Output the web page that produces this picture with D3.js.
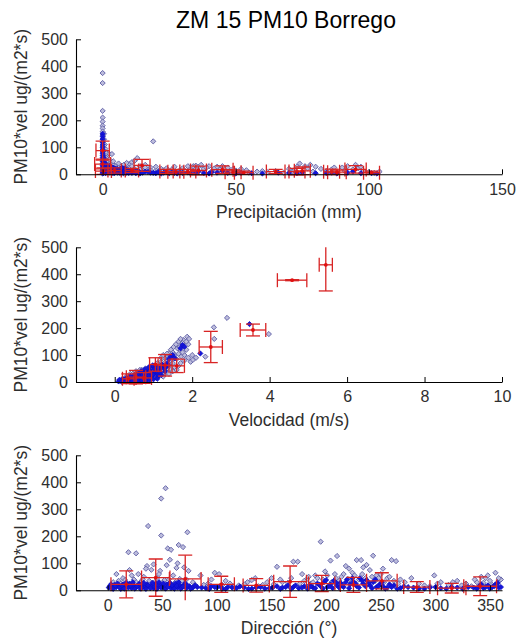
<!DOCTYPE html>
<html>
<head>
<meta charset="utf-8">
<script src="https://cdn.jsdelivr.net/npm/d3@7"></script>
<style>
  html, body { margin: 0; padding: 0; background: #fff; }
  svg { display: block; font-family: "Liberation Sans", Arial, sans-serif; }
</style>
</head>
<body>
<svg id="chart" width="516" height="642"></svg>
<script>
// ---- data -----------------------------------------------------------------
const titleText = "ZM 15 PM10 Borrego";
const yLabelText = "PM10*vel ug/(m2*s)";
const yTicks = [0, 100, 200, 300, 400, 500];

// Panel 1: precipitation (mm) vs PM10*vel
const precipTicks = [0, 50, 100, 150];
const precipLight = [
  [0,375],[0,338],[0,235],[0,210],[0,195],[0,180],[0,170],[0,158],[0,145],[0,130],[0,118],[0,105],
  [0.3,95],[0.5,80],[1.5,78],[2.5,76],[3.5,75],[1,62],[1.2,55],[2,45],[3,40],[4,35],[5,30],[6,28],
  [7,32],[8,25],[9,20],[10,38],[11,45],[12,50],[13,60],[14,30],[15,22],[16,35],[17,18],[18,25],
  [19,122],[20,15],[21,12],[22,20],[23,15],[25,10],[26,18],[28,8],[30,22],[31,12],[33,25],[34,30],
  [35,32],[36,28],[37,35],[38,20],[40,30],[41,12],[42,22],[44,18],[46,10],[47,25],[48,8],[50,14],
  [52,20],[55,6],[58,10],[62,8],[65,12],[68,6],[71,8],[72,15],[74,40],[76,30],[77,22],[79,10],
  [80,28],[84,12],[86,18],[88,8],[90,25],[92,30],[94,18],[95,35],[96,22],[98,12],[100,8],[102,5],[104,10],
  [0.5,150],[0.5,130],[0.8,110],[1,95],[1.5,60],[2,35],[2.5,55],[3,28],[4,48],[5,22],[6,40],[7,20],
  [8,35],[9,42],[10,25],[11,30],[12,20],[14,18],[16,25],[18,14],[20,28],[24,22],[27,28],[29,15],
  [32,30],[35,20],[39,25],[43,28],[45,30],[49,20],[54,15],[60,12],[70,20],[73,28],[78,35],[82,20],
  [87,25],[91,12],[97,28]
];
const precipDark = [
  [0,150],[0,140],[0,130],[0,120],[0,110],[0,100],[0,92],[0,85],[0,78],[0,70],[0,62],[0,55],[0,48],
  [0,40],[0,33],[0,26],[0,20],[0,14],[0,8],[0,3],[0.5,60],[0.6,45],[0.8,30],[1,20],[1.2,12],[1.5,35],
  [1.8,25],[2,15],[2.3,8],[2.6,30],[3,20],[3.3,10],[3.6,5],[4,25],[4.5,15],[5,8],[5.5,20],[6,12],
  [6.5,5],[7,18],[7.5,10],[8,22],[8.5,14],[9,6],[9.5,16],[10,10],[11,5],[12,14],[13,8],[14,3],
  [16,10],[18,6],[20,4],[23,6],[27,5],[32,7],[36,10],[41,8],[45,12],[52,5],[66,6],[73,4],[86,6],[94,10],[101,4],
  [0.3,5],[0.7,10],[1.1,4],[1.4,18],[1.7,8],[2.1,22],[2.4,14],[2.8,6],[3.2,16],[3.5,26],[3.9,10],
  [4.3,4],[4.7,20],[5.2,12],[5.7,6],[6.2,16],[6.8,9],[7.2,24],[7.8,4],[8.2,12],[8.8,18],[9.3,10],
  [9.8,5],[10.5,14],[11.5,9],[12.5,4],[13.5,12],[15,6],[17,9],[19,5],[21,8],[22,3],[24,9],[25,4],
  [26,7],[28,3],[29,8],[30,5],[33,4],[35,8],[38,5],[40,3],[43,6],[47,5],[50,3],[56,4],[60,3],[70,5],
  [75,7],[80,4],[84,5],[88,3],[92,6],[97,4],[103,3]
];
// bin means: [x, y, x spread, y spread]
const precipBins = [
  [0,88,2.5,35],[0,38,3,18],[0.3,12,3,12],[4.5,14,2.5,10],[14.8,33,3,22],[11,14,2.5,8],
  [24,10,2.5,8],[27.5,9,3,9],[32,10,3,8],[36,14,3,16],[45,17,4,14],[49,8,3,8],[53,6,3.5,6],
  [65,10,3.5,8],[73,10,3,12],[75,13,3,14],[86,9,3,10],[88,8,3.5,8],[95,18,4,14],[101,6,3,6]
];

// Panel 2: wind speed (m/s) vs PM10*vel
const velTicks = [0, 2, 4, 6, 8, 10];
const velLight = [
  [2.9,238],[2.56,203],[2.57,160],[2.34,94],[3.98,178],[1.87,168],[1.77,156],[1.96,75],[2.02,82],
  [2.1,90],[1.4,107],[1.33,95],[1.29,88],[1.5,110],[1.55,100],[1.62,125],[1.68,130],[1.7,115],
  [1.45,80],[1.5,70],[1.6,85],[1.65,60],[1.72,95],[1.8,100],[1.85,120],[1.4,60],[1.35,50],[1.2,75],
  [1.15,60],[1.1,50],[1.25,40],[1.05,45],[1.0,30],[0.95,40],[0.9,25],[0.85,35],[0.8,20],[0.7,30],
  [0.6,25],[0.5,35],[0.45,20],[0.4,30],[0.35,15],[0.3,20],[0.25,10],[1.3,30],[1.45,45],[1.55,55],
  [1.9,140],[1.75,145],
  [1.0,50],[1.1,70],[1.2,90],[1.25,100],[1.35,105],[1.45,120],[1.52,130],[1.58,140],[1.65,150],
  [1.7,160],[1.4,30],[1.5,40],[1.6,45],[1.7,70],[1.8,80],[1.9,90],[2.0,100],[0.9,55],[0.8,50],
  [0.7,45],[1.85,150],[1.92,160],[1.15,25],[1.25,20],[0.55,40],[0.65,45],[1.65,105],[1.75,110]
];
const velDark = [
  [0.1,2],[0.15,5],[0.2,3],[0.25,8],[0.3,6],[0.35,10],[0.4,4],[0.45,12],[0.5,8],[0.55,15],[0.6,10],
  [0.65,18],[0.7,12],[0.75,22],[0.8,15],[0.85,28],[0.9,20],[0.95,32],[1.0,25],[1.05,38],[1.1,30],
  [1.15,45],[1.2,55],[1.25,60],[0.5,25],[0.6,30],[0.7,35],[0.8,40],[0.9,45],[1.0,55],[1.05,62],
  [0.3,15],[0.4,18],[0.2,12],[0.65,5],[0.75,8],[0.85,10],[0.95,12],[1.1,18],[1.2,25],[1.3,40],
  [1.35,70],[1.4,85],[1.75,137],[1.8,131],[1.7,125],[2.21,106],[3.48,215],[0.55,2],[0.35,3],
  [0.12,8],[0.18,1],[0.22,6],[0.28,2],[0.32,12],[0.38,7],[0.42,14],[0.48,5],[0.52,20],[0.58,12],
  [0.62,22],[0.68,15],[0.72,26],[0.78,18],[0.82,32],[0.88,24],[0.92,38],[0.98,28],[1.02,48],
  [1.08,40],[1.12,52],[1.18,35],[1.22,65],[1.28,50],[0.45,3],[0.6,4],[0.7,6],[0.8,5],[0.9,8],
  [1.0,10],[1.1,12],[0.58,28],[0.68,40],[0.78,48],[0.88,55],[0.98,62],[0.4,22],[0.5,16],[1.32,55],
  [1.38,62],[1.45,95],[1.5,100],[1.55,88]
];
const velBins = [
  [0.35,12,0.15,18],[0.55,18,0.25,25],[0.75,15,0.2,20],[1.05,65,0.15,25],[1.3,62,0.18,40],
  [1.6,60,0.2,25],[2.48,130,0.3,58],[3.57,193,0.33,22],[4.58,378,0.38,2],[5.45,435,0.17,97]
];

// Panel 3: wind direction (degrees) vs PM10*vel
const dirTicks = [0, 50, 100, 150, 200, 250, 300, 350];
const dirLight = [
  [53,378],[49,340],[37,238],[49,203],[73,215],[19,141],[26,137],[55,155],[58,150],[65,168],[69,160],
  [42,96],[36,90],[35,80],[40,76],[48,72],[54,93],[57,113],[64,100],[70,85],[63,83],[47,60],[74,72],
  [8,60],[10,35],[14,45],[20,75],[22,55],[24,40],[28,60],[30,30],[33,50],[45,45],[52,38],[60,55],
  [66,42],[78,30],[85,55],[92,25],[98,65],[102,60],[108,35],[112,25],[120,18],[128,30],[135,45],
  [142,20],[150,45],[155,87],[160,30],[170,106],[174,106],[178,60],[182,40],[186,25],[190,55],
  [195,180],[199,70],[204,110],[208,60],[210,127],[214,50],[218,90],[221,80],[224,65],[228,112],
  [232,112],[234,85],[237,94],[240,75],[243,128],[246,55],[250,60],[252,80],[256,45],[260,112],
  [264,108],[268,40],[272,30],[278,45],[285,25],[290,18],[299,55],[305,30],[312,20],[320,35],
  [328,25],[333,15],[338,30],[342,50],[346,45],[350,35],[355,65],[357,25],[360,40],
  [176,25],[180,35],[184,50],[188,30],[192,45],[197,40],[201,55],[205,30],[209,45],[212,35],
  [216,60],[220,42],[223,30],[226,55],[230,40],[233,60],[236,45],[239,30],[242,50],[245,35],
  [248,45],[253,30],[258,50],[262,35],[266,25],[5,30],[12,25],[16,38],[26,30],[32,40],[38,35],
  [43,30],[50,28],[56,40],[62,30],[68,35],[72,40],[80,20],[88,20],[95,40],[105,20],[115,15],
  [125,22],[132,38],[138,15],[146,30],[152,22],[158,40],[165,28],[168,45],[295,15],[302,25],
  [316,30],[324,18],[336,40],[344,28],[348,55],[352,20],[358,45]
];
const dirDark = [
  [2,15],[4,8],[6,20],[8,12],[10,18],[12,5],[14,22],[16,10],[18,15],[20,25],[22,8],[24,18],[26,12],
  [28,20],[30,6],[32,15],[34,10],[36,22],[38,14],[40,18],[42,8],[44,25],[46,12],[48,20],[50,15],
  [52,10],[54,22],[56,18],[58,8],[60,14],[62,25],[64,10],[66,18],[68,12],[70,20],[72,8],[75,15],
  [78,10],[82,12],[90,8],[95,15],[100,10],[105,6],[110,12],[118,8],[125,10],[132,6],[140,12],
  [148,8],[155,15],[160,10],[165,18],[170,12],[175,8],[180,15],[185,20],[188,10],[192,25],[195,15],
  [198,30],[201,12],[204,22],[207,35],[210,18],[213,28],[216,12],[219,40],[222,22],[225,32],[228,15],
  [231,45],[234,25],[237,38],[240,18],[243,30],[246,12],[249,22],[252,15],[256,10],[262,18],[268,8],
  [275,12],[285,6],[295,10],[305,8],[315,12],[325,6],[335,10],[340,15],[344,8],[348,18],[352,12],
  [355,22],[358,10],
  [1,10],[3,22],[5,5],[7,16],[9,25],[11,12],[13,18],[15,6],[17,28],[19,10],[21,18],[23,30],[25,6],
  [27,15],[29,24],[31,10],[33,28],[35,5],[37,18],[39,8],[41,28],[43,14],[45,5],[47,30],[49,10],
  [51,25],[53,6],[55,12],[57,28],[59,18],[61,6],[63,16],[65,30],[67,6],[69,14],[71,26],[73,18],
  [76,6],[80,18],[86,10],[93,5],[98,12],[103,16],[108,5],[114,10],[121,14],[129,5],[136,10],
  [144,6],[151,10],[158,5],[163,12],[168,6],[172,18],[178,10],[183,6],[186,14],[190,8],[194,20],
  [197,6],[200,38],[203,15],[206,8],[209,28],[212,10],[215,20],[218,30],[221,8],[224,45],[227,25],
  [230,10],[233,35],[236,15],[239,28],[242,8],[245,40],[248,15],[251,30],[254,6],[258,22],[260,12],
  [265,6],[271,14],[280,10],[290,6],[300,12],[310,6],[320,10],[330,12],[338,6],[342,22],[346,12],
  [350,6],[354,15],[357,28],[360,12]
];
const dirBins = [
  [17,22,14,50],[44,47,13,69],[71,42,14.5,88],[104,22,12,30],[136,18,12,25],[167,32,15,58],
  [196,25,12,30],[225,20,12,28],[251,35,14,30],[283,12,12,20],[315,8,13,18],[341,15,15,35]
];

// ---- layout ---------------------------------------------------------------
const svg = d3.select("#chart");
const plotLeft = 76, plotRight = 502;
const panels = [
  { top: 39.3, bottom: 174.3, xDomain: [-10, 150], xTicks: precipTicks, light: precipLight, dark: precipDark, bins: precipBins, xLabel: "Precipitación (mm)" },
  { top: 247.3, bottom: 382, xDomain: [-1, 10], xTicks: velTicks, light: velLight, dark: velDark, bins: velBins, xLabel: "Velocidad (m/s)" },
  { top: 455.3, bottom: 590.3, xDomain: [-29, 361], xTicks: dirTicks, light: dirLight, dark: dirDark, bins: dirBins, xLabel: "Dirección (°)" }
];

const diamond = "M0,-2.6L2.6,0L0,2.6L-2.6,0Z";
const capHalf = 7;
const red = "#d82424";
const textGray = "#2e2e2e";

svg.append("text")
  .attr("x", 286).attr("y", 28)
  .attr("text-anchor", "middle")
  .attr("font-size", 23)
  .attr("fill", "#000")
  .text(titleText);

panels.forEach((p, i) => {
  const x = d3.scaleLinear().domain(p.xDomain).range([plotLeft, plotRight]);
  const y = d3.scaleLinear().domain([0, 500]).range([p.bottom, p.top]);
  const g = svg.append("g");

  const clipId = "clip" + i;
  svg.append("clipPath").attr("id", clipId)
    .append("rect")
    .attr("x", plotLeft).attr("y", p.top)
    .attr("width", plotRight - plotLeft + 12).attr("height", p.bottom - p.top + 10);

  const marks = g.append("g").attr("clip-path", `url(#${clipId})`);

  // observations
  marks.append("g").selectAll("path").data(p.light).join("path")
    .attr("d", diamond)
    .attr("transform", d => `translate(${x(d[0])},${y(d[1])})`)
    .attr("fill", "#bcbcdc").attr("stroke", "#5c5ca4").attr("stroke-width", 0.9);
  marks.append("g").selectAll("path").data(p.dark).join("path")
    .attr("d", diamond)
    .attr("transform", d => `translate(${x(d[0])},${y(d[1])})`)
    .attr("fill", "#1414d8").attr("stroke", "#0c0cc8").attr("stroke-width", 0.8);

  // binned means with spread bars
  const bins = marks.append("g").selectAll("g").data(p.bins).join("g")
    .attr("stroke", red).attr("stroke-width", 1.3).attr("fill", "none");
  bins.append("line")
    .attr("x1", d => x(d[0] - d[2])).attr("x2", d => x(d[0] + d[2]))
    .attr("y1", d => y(d[1])).attr("y2", d => y(d[1]));
  bins.append("line")
    .attr("x1", d => x(d[0] - d[2])).attr("x2", d => x(d[0] - d[2]))
    .attr("y1", d => y(d[1]) - capHalf).attr("y2", d => y(d[1]) + capHalf);
  bins.append("line")
    .attr("x1", d => x(d[0] + d[2])).attr("x2", d => x(d[0] + d[2]))
    .attr("y1", d => y(d[1]) - capHalf).attr("y2", d => y(d[1]) + capHalf);
  bins.append("line")
    .attr("x1", d => x(d[0])).attr("x2", d => x(d[0]))
    .attr("y1", d => y(d[1] - d[3])).attr("y2", d => y(d[1] + d[3]));
  bins.append("line")
    .attr("x1", d => x(d[0]) - capHalf).attr("x2", d => x(d[0]) + capHalf)
    .attr("y1", d => y(d[1] - d[3])).attr("y2", d => y(d[1] - d[3]));
  bins.append("line")
    .attr("x1", d => x(d[0]) - capHalf).attr("x2", d => x(d[0]) + capHalf)
    .attr("y1", d => y(d[1] + d[3])).attr("y2", d => y(d[1] + d[3]));
  bins.append("circle")
    .attr("cx", d => x(d[0])).attr("cy", d => y(d[1])).attr("r", 1.9)
    .attr("fill", "#e01010").attr("stroke", "none");

  // axes
  const xAxis = g.append("g").attr("transform", `translate(0,${p.bottom})`)
    .call(d3.axisBottom(x).tickValues(p.xTicks).tickFormat(d3.format("d"))
      .tickSizeInner(-5).tickSizeOuter(0).tickPadding(9));
  const yAxis = g.append("g").attr("transform", `translate(${plotLeft},0)`)
    .call(d3.axisLeft(y).tickValues(yTicks).tickFormat(d3.format("d"))
      .tickSizeInner(-5).tickSizeOuter(0).tickPadding(8));
  [xAxis, yAxis].forEach(a => {
    a.select(".domain").attr("stroke", "#000").attr("stroke-width", 1.1);
    a.selectAll(".tick line").attr("stroke", "#000");
    a.selectAll(".tick text").attr("font-size", 16).attr("fill", textGray)
      .attr("font-family", "Liberation Sans, Arial, sans-serif");
  });

  svg.append("text")
    .attr("x", (plotLeft + plotRight) / 2).attr("y", p.bottom + 44)
    .attr("text-anchor", "middle").attr("font-size", 17.5).attr("fill", textGray)
    .text(p.xLabel);

  svg.append("text")
    .attr("transform", `translate(27,${(p.top + p.bottom) / 2}) rotate(-90)`)
    .attr("text-anchor", "middle").attr("font-size", 17.5).attr("fill", textGray)
    .text(yLabelText);
});
</script>
</body>
</html>
